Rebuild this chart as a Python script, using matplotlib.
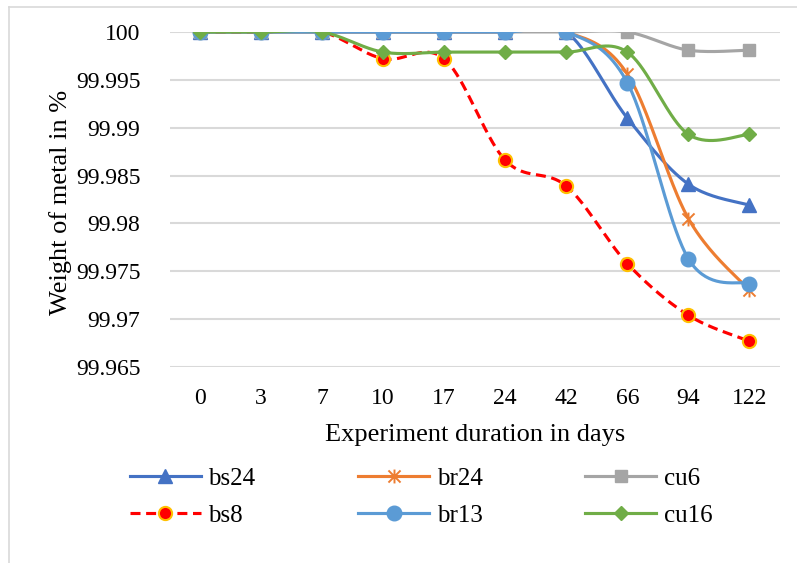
import numpy as np
import matplotlib
matplotlib.use("Agg")
import matplotlib.pyplot as plt
from matplotlib.lines import Line2D
from matplotlib.path import Path

plt.rcParams['font.family'] = ['Liberation Serif', 'DejaVu Serif']

days = ["0", "3", "7", "10", "17", "24", "42", "66", "94", "122"]
bs24 = [100, 100, 100, 100, 100, 100, 100, 99.9910, 99.9841, 99.9819]
br24 = [100, 100, 100, 100, 100, 100, 100, 99.9956, 99.9805, 99.9730]
cu6 = [100, 100, 100, 100, 100, 100, 100, 100, 99.9981, 99.9981]
bs8 = [100, 100, 100, 99.9972, 99.9972, 99.9866, 99.9839, 99.9758, 99.9704, 99.9677]
br13 = [100, 100, 100, 100, 100, 100, 100, 99.9947, 99.9763, 99.9737]
cu16 = [100, 100, 100, 99.9979, 99.9979, 99.9979, 99.9979, 99.9979, 99.9893, 99.9893]

yticks = [99.965, 99.97, 99.975, 99.98, 99.985, 99.99, 99.995, 100]
ytick_labels = ["99.965", "99.97", "99.975", "99.98", "99.985", "99.99", "99.995", "100"]


def smooth(x, y, n=40):
    x = np.asarray(x, float)
    y = np.asarray(y, float)
    P = np.column_stack([x, y])
    out = []
    m = len(P)
    for i in range(m - 1):
        p0 = P[i - 1] if i > 0 else P[i]
        p1 = P[i]
        p2 = P[i + 1]
        p3 = P[i + 2] if i + 2 < m else P[i + 1]
        c1 = p1 + (p2 - p0) / 6.0
        c2 = p2 - (p3 - p1) / 6.0
        t = np.linspace(0, 1, n)[:, None]
        seg = ((1 - t) ** 3) * p1 + 3 * ((1 - t) ** 2) * t * c1 + 3 * (1 - t) * t ** 2 * c2 + t ** 3 * p2
        if i > 0:
            seg = seg[1:]
        out.append(seg)
    out = np.vstack(out)
    return out[:, 0], out[:, 1]


# Excel "star" marker: an x with a vertical stroke
star = Path([(-1, -1), (1, 1), (-1, 1), (1, -1), (0, -1.15), (0, 1.15)],
            [Path.MOVETO, Path.LINETO, Path.MOVETO, Path.LINETO, Path.MOVETO, Path.LINETO])

W, H = 797, 563
fig = plt.figure(figsize=(W / 100, H / 100), dpi=100)
ax = fig.add_axes([169.5 / W, 1 - 367 / H, 610.5 / W, 335 / H])

xi = np.arange(len(days))
series = [
    ("bs24", bs24, dict(color="#4472C4", ls="-", marker="^", ms=10.5, mfc="#4472C4", mec="#4472C4", mew=1.0)),
    ("br24", br24, dict(color="#ED7D31", ls="-", marker=star, ms=10, mfc="none", mec="#ED7D31", mew=1.4)),
    ("cu6", cu6, dict(color="#A5A5A5", ls="-", marker="s", ms=9, mfc="#A5A5A5", mec="#A5A5A5", mew=1.0)),
    ("bs8", bs8, dict(color="#FF0000", ls=(0, (3.2, 1.8)), marker="o", ms=9.5, mfc="#FF0000", mec="#FFC000", mew=1.5)),
    ("br13", br13, dict(color="#5B9BD5", ls="-", marker="o", ms=10.5, mfc="#5B9BD5", mec="#5B9BD5", mew=1.0)),
    ("cu16", cu16, dict(color="#70AD47", ls="-", marker="D", ms=7.5, mfc="#70AD47", mec="#70AD47", mew=1.0)),
]

handles = []
for i, (name, vals, st) in enumerate(series):
    sx, sy = smooth(xi, vals)
    ax.plot(sx, sy, color=st["color"], ls=st["ls"], lw=2.25, zorder=3 + i,
            solid_capstyle="round", dash_capstyle="butt")
    ax.plot(xi, vals, ls="none", marker=st["marker"], ms=st["ms"], mfc=st["mfc"],
            mec=st["mec"], mew=st["mew"], zorder=3 + i)
    handles.append(Line2D([], [], color=st["color"], ls=st["ls"], lw=2.25,
                          marker=st["marker"], ms=st["ms"], mfc=st["mfc"],
                          mec=st["mec"], mew=st["mew"]))

ax.set_xlim(-0.5, len(days) - 0.5)
ax.set_ylim(99.965, 100)
ax.set_xticks(xi)
ax.set_xticklabels(days, fontsize=17)
ax.set_yticks(yticks)
ax.set_yticklabels(ytick_labels, fontsize=17)
ax.tick_params(axis="both", length=0, colors="black")
ax.tick_params(axis="y", pad=21)
ax.tick_params(axis="x", pad=15)
ax.grid(axis="y", color="#D9D9D9", lw=1.5, zorder=0)
ax.set_axisbelow(True)
for s in ax.spines.values():
    s.set_visible(False)
ax.set_xlabel("Experiment duration in days", fontsize=19, labelpad=11)
ax.set_ylabel("Weight of metal in %", fontsize=19)
ax.yaxis.set_label_coords((72 - 169.5) / 610.5, 0.49)

# legend: 2 rows x 3 columns, Excel row-major order
order = [0, 3, 1, 4, 2, 5]
leg = fig.legend([handles[k] for k in order], [series[k][0] for k in order],
                 ncol=3, loc="center", bbox_to_anchor=(421 / W, 1 - 497 / H),
                 frameon=False, fontsize=18, handlelength=2.85, columnspacing=4.1,
                 handletextpad=0.3, labelspacing=0.58)

# chart area border (partially visible)
fig.add_artist(Line2D([9 / W, 1.0], [1 - 7 / H, 1 - 7 / H], color="#D9D9D9", lw=1.2))
fig.add_artist(Line2D([9 / W, 9 / W], [0, 1 - 7 / H], color="#D9D9D9", lw=1.2))

fig.savefig("out.png", dpi=100)
